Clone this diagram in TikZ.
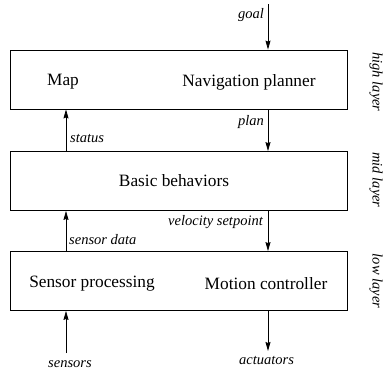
\documentclass[tikz,border=0pt]{standalone}
\usepackage{fontspec}
\setmainfont{Liberation Serif}
\usetikzlibrary{arrows.meta}
\begin{document}
\begin{tikzpicture}[x=1pt,y=1pt,
  layerbox/.style={draw,line width=0.8pt,minimum width=337pt,minimum height=59pt,inner sep=0pt},
  main/.style={font=\fontsize{17.3}{20}\selectfont,inner sep=0pt},
  lbl/.style={font=\fontsize{14.5}{17}\selectfont\itshape,inner sep=0pt},
  side/.style={font=\fontsize{14.5}{17}\selectfont\itshape,inner sep=0pt,rotate=-90},
  flow/.style={line width=0.8pt,-{Stealth[length=9pt,width=5pt,inset=1pt]}}]
\useasboundingbox (0,0) rectangle (383,-373);
\node[layerbox] (top) at (178.5,-79.5) {};
\node[layerbox] (mid) at (178.5,-181) {};
\node[layerbox] (bot) at (178.5,-281) {};
\node[main] (map) at (63,-82) {Map};
\node[main] (nav) at (249,-82) {Navigation planner};
\node[main] (beh) at (174,-181) {Basic behaviors};
\node[main] (sp) at (92,-284) {Sensor processing};
\node[main] (mc) at (266,-284) {Motion controller};
\coordinate (lx) at (66,0);
\coordinate (rx) at (268,0);
\coordinate (goalstart) at (268,-4);
\coordinate (sensstart) at (66,-353);
\coordinate (actend) at (268,-351);
\draw[flow] (goalstart) -- (top.north -| rx);
\draw[flow] (top.south -| rx) -- (mid.north -| rx);
\draw[flow] (mid.north -| lx) -- (top.south -| lx);
\draw[flow] (mid.south -| rx) -- (bot.north -| rx);
\draw[flow] (bot.north -| lx) -- (mid.south -| lx);
\draw[flow] (sensstart) -- (bot.south -| lx);
\draw[flow] (bot.south -| rx) -- (actend);
\node[lbl,anchor=east] (goal) at (264,-15) {goal};
\node[lbl,anchor=east] (plan) at (264,-122) {plan};
\node[lbl,anchor=west] (status) at (70,-138) {status};
\node[lbl,anchor=east] (vel) at (263,-222) {velocity setpoint};
\node[lbl,anchor=west] (sdata) at (69,-240) {sensor data};
\node[lbl] (sensors) at (70,-364) {sensors};
\node[lbl] (act) at (266.5,-360) {actuators};
\node[side] (hl) at (376,-82) {high layer};
\node[side] (ml) at (376,-180) {mid layer};
\node[side] (ll) at (376,-281) {low layer};
\end{tikzpicture}
\end{document}
